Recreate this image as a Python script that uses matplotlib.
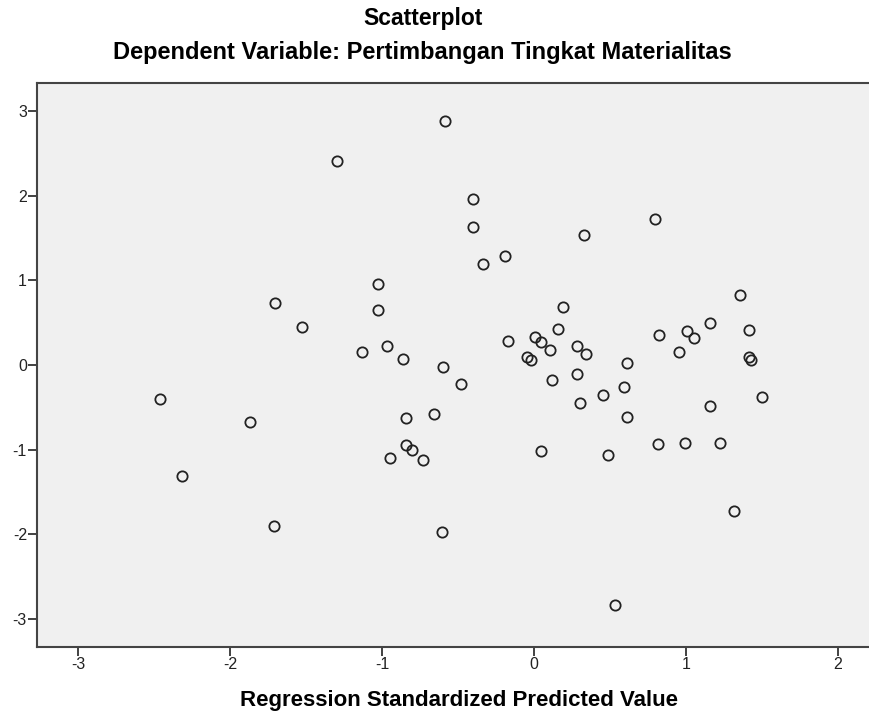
import numpy as np
import matplotlib
matplotlib.use("Agg")
import matplotlib.pyplot as plt

plt.rcParams['font.family'] = ['Liberation Sans', 'DejaVu Sans']
plt.rcParams['axes.unicode_minus'] = False

# Regression standardized predicted value (x) vs standardized residual (y)
pred = [-1.708, -1.528, -0.586, -1.298, -0.401, -0.401, -0.195, -0.339, 0.329, -1.026,
        -1.030, 0.191, 0.156, -0.175, 0.007, 0.044, 0.101, 0.279, -1.134, -0.971,
        -0.866, -0.046, -0.024, 0.796, 1.355, 1.413, 1.154, 1.005, 1.055, 0.823,
        0.952, 0.340, 1.413, 1.430, 0.614, 0.285, 0.592, 0.450, 0.303, 1.500,
        1.154, 0.614, 0.816, 0.994, 1.224, 0.487, 1.314, 0.535, -0.603, -0.480,
        0.118, -0.660, -0.844, -0.844, -0.805, -0.951, -0.730, 0.044, -0.605, -2.461,
        -1.870, -2.316, -1.711]
resid = [0.737, 0.446, 2.882, 2.414, 1.957, 1.630, 1.287, 1.189, 1.532, 0.961,
         0.650, 0.681, 0.422, 0.284, 0.327, 0.268, 0.182, 0.221, 0.154, 0.229,
         0.075, 0.095, 0.056, 1.721, 0.827, 0.418, 0.492, 0.398, 0.323, 0.359,
         0.154, 0.134, 0.095, 0.064, 0.028, -0.106, -0.263, -0.358, -0.452, -0.381,
         -0.488, -0.618, -0.933, -0.921, -0.925, -1.058, -1.728, -2.830, -0.024, -0.220,
         -0.173, -0.582, -0.622, -0.945, -1.004, -1.098, -1.118, -1.019, -1.968, -0.397,
         -0.669, -1.315, -1.901]

x_ticks = [-3, -2, -1, 0, 1, 2]
y_ticks = [-3, -2, -1, 0, 1, 2, 3]

fig = plt.figure(figsize=(8.7, 7.19), dpi=100)
ax = fig.add_axes([0.0422, 0.1001, 0.9578, 0.7845])
ax.set_facecolor('#f0f0f0')

ax.plot(pred, resid, linestyle='none', marker='o', markersize=7.4,
        markerfacecolor='none', markeredgecolor='#222222', markeredgewidth=1.3)

ax.set_xlim(-3.274, 2.21)
ax.set_ylim(-3.33, 3.33)
ax.set_xticks(x_ticks)
ax.set_yticks(y_ticks)
ax.tick_params(direction='out', length=6.5, width=1.3, color='#333333',
               labelsize=11.5, labelcolor='#222222', pad=0.5)

for side in ['left', 'bottom', 'top']:
    ax.spines[side].set_color('#444444')
    ax.spines[side].set_linewidth(1.5)
ax.spines['right'].set_visible(False)

fig.text(0.486, 0.974, 'Scatterplot', ha='center', va='center',
         fontsize=16.5, fontweight='bold')
fig.text(0.486, 0.927, 'Dependent Variable: Pertimbangan Tingkat Materialitas',
         ha='center', va='center', fontsize=17, fontweight='bold')
fig.text(0.528, 0.026, 'Regression Standardized Predicted Value', ha='center',
         va='center', fontsize=16, fontweight='bold')

fig.savefig('out.png', dpi=100)
